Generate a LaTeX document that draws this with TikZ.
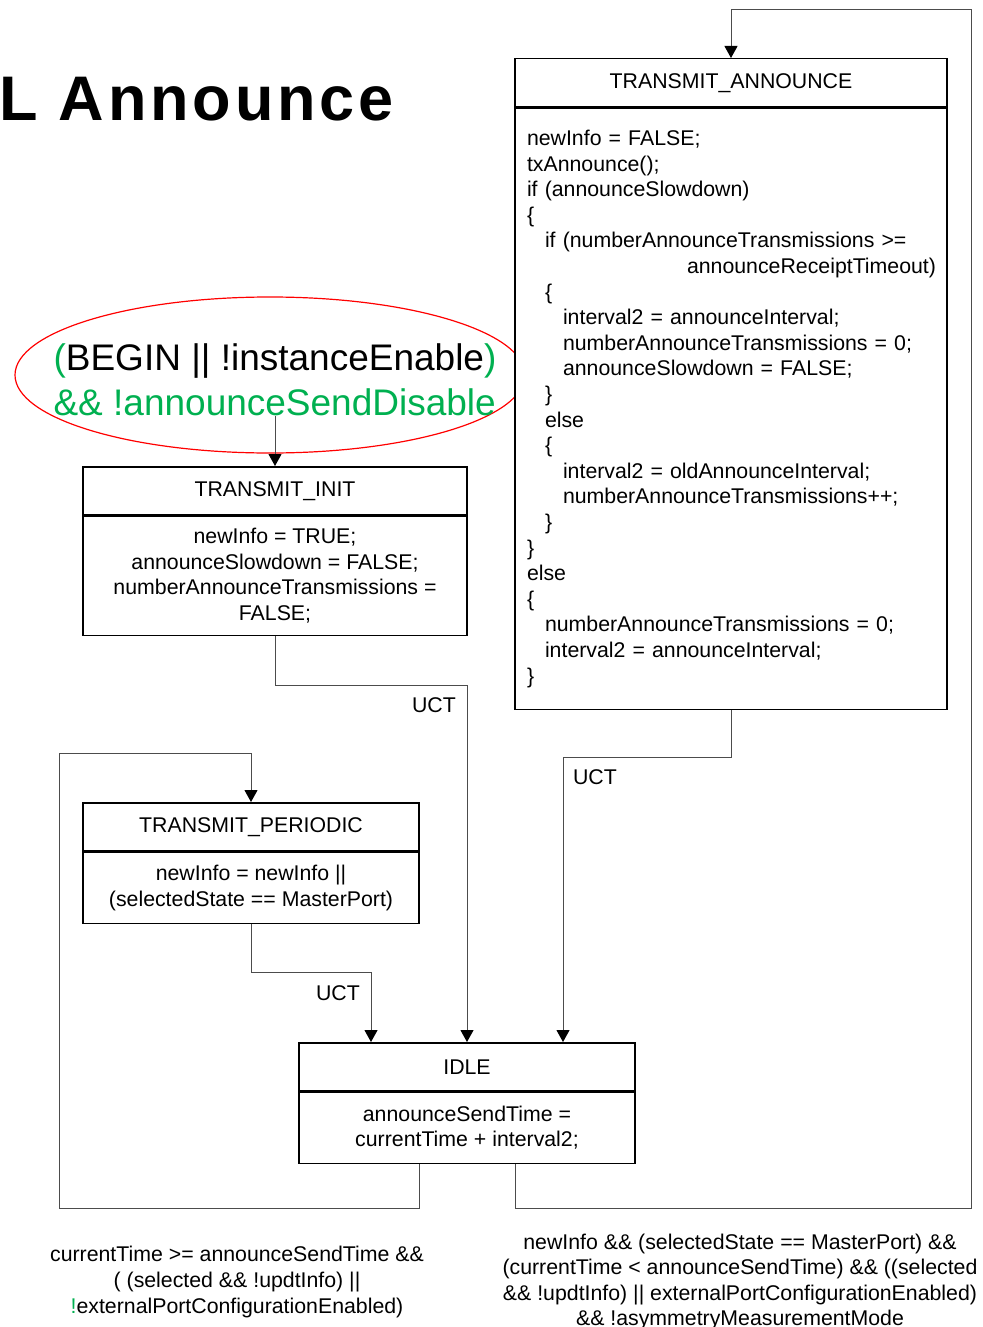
\documentclass[tikz,border=0pt]{standalone}
\usepackage{fontspec}
\setmainfont{Liberation Sans}
\usetikzlibrary{arrows.meta, positioning, shapes.geometric}
\definecolor{grn}{RGB}{0,176,80}
\newcommand{\ind}{\hspace*{18pt}}

\begin{document}
\begin{tikzpicture}[
  x=1pt, y=-1pt,
  font=\fontsize{21.3}{25.6}\selectfont,
  hdr/.style={
    draw=black,
    fill=white,
    line width=1.5pt,
    inner sep=0pt,
    minimum height=48pt,
    anchor=north,
  },
  body/.style={
    draw=black,
    fill=white,
    line width=1.5pt,
    align=center,
    inner sep=0pt,
  },
  flow/.style={draw=black!70, line width=1pt, -{Triangle[length=12pt, width=13pt, black]}},
  lbl/.style={inner sep=0pt},
  guard/.style={align=center, inner sep=0pt},
]
\useasboundingbox (0,0) rectangle (982,1327);

% ---- title, cut at the left -----------------------------------------------
\node[lbl, anchor=base west, font=\fontsize{63}{70}\selectfont\bfseries\addfontfeature{LetterSpace=6}]
  (title) at (-1,121) {L Announce};

% ---- start condition ------------------------------------------------------
\node[draw=red, line width=1.2pt, ellipse, minimum width=510pt, minimum height=156pt]
  (ring) at (270,375) {};
\node[lbl, align=left, font=\fontsize{37}{45}\selectfont]
  (cond) at (275,380)
  {\textcolor{grn}{(}BEGIN || !instanceEnable\textcolor{grn}{)}\\
   \textcolor{grn}{\&\& !announceSendDisable}};

% ---- TRANSMIT_ANNOUNCE (drawn over the ring) ------------------------------
\node[hdr, minimum width=432pt] (annH) at (731,58) {TRANSMIT\_ANNOUNCE};
\node[body, below=0pt of annH, minimum width=432pt, minimum height=601pt,
      text width=408pt, align=left]
  (annB)
  {newInfo = FALSE;\\
   txAnnounce();\\
   if (announceSlowdown)\\
   \{\\
   \ind if (numberAnnounceTransmissions >=\\
   \hspace*{160pt}\rlap{announceReceiptTimeout)}\\
   \ind\{\\
   \ind\ind interval2 = announceInterval;\\
   \ind\ind numberAnnounceTransmissions = 0;\\
   \ind\ind announceSlowdown = FALSE;\\
   \ind\}\\
   \ind else\\
   \ind\{\\
   \ind\ind interval2 = oldAnnounceInterval;\\
   \ind\ind numberAnnounceTransmissions++;\\
   \ind\}\\
   \}\\
   else\\
   \{\\
   \ind numberAnnounceTransmissions = 0;\\
   \ind interval2 = announceInterval;\\
   \}};

% ---- TRANSMIT_INIT --------------------------------------------------------
\node[hdr, minimum width=384pt] (initH) at (275,466) {TRANSMIT\_INIT};
\node[body, below=0pt of initH, minimum width=384pt, minimum height=119pt]
  (initB)
  {newInfo = TRUE;\\
   announceSlowdown = FALSE;\\
   numberAnnounceTransmissions =\\
   FALSE;};

% ---- TRANSMIT_PERIODIC ----------------------------------------------------
\node[hdr, minimum width=336pt] (perH) at (251,802) {TRANSMIT\_PERIODIC};
\node[body, below=0pt of perH, minimum width=336pt, minimum height=71pt]
  (perB)
  {newInfo = newInfo ||\\
   (selectedState == MasterPort)};

% ---- IDLE -----------------------------------------------------------------
\node[hdr, minimum width=336pt] (idleH) at (467,1042) {IDLE};
\node[body, below=0pt of idleH, minimum width=336pt, minimum height=71pt]
  (idleB)
  {announceSendTime =\\
   currentTime + interval2;};

% ---- transitions ----------------------------------------------------------
\draw[flow] (cond.south) -- (initH.north);

\draw[flow] (initB.south) -- ++(0,-49pt) -| (idleH.north);
\node[lbl] (uctI) at (434,705) {UCT};

\draw[flow] (annB.south) -- ++(0,-47pt) -| ([xshift=96pt]idleH.north);
\node[lbl] (uctA) at (595,777) {UCT};

\draw[flow] (perB.south) -- ++(0,-48pt) -| ([xshift=-96pt]idleH.north);
\node[lbl] (uctP) at (338,993) {UCT};

% loops back out of IDLE
\coordinate (lpL1) at (59,1208);
\coordinate (lpL2) at (59,753);
\draw[flow] ([xshift=-48pt]idleB.south) |- (lpL1) -- (lpL2) -| (perH.north);

\coordinate (lpR1) at (971,1208);
\coordinate (lpR2) at (971,10);
\draw[flow] ([xshift=48pt]idleB.south) |- (lpR1) -- (lpR2) -| (annH.north);

\node[guard] (gPer) at (237,1282)
  {currentTime >= announceSendTime \&\&\\
   ( (selected \&\& !updtInfo) ||\\
   \textcolor{grn}{!}externalPortConfigurationEnabled)};
\node[guard] (gAnn) at (740,1282)
  {newInfo \&\& (selectedState == MasterPort) \&\&\\
   (currentTime < announceSendTime) \&\& ((selected\\
   \&\& !updtInfo) || externalPortConfigurationEnabled)\\
   \&\& !asymmetryMeasurementMode};

\end{tikzpicture}
\end{document}
